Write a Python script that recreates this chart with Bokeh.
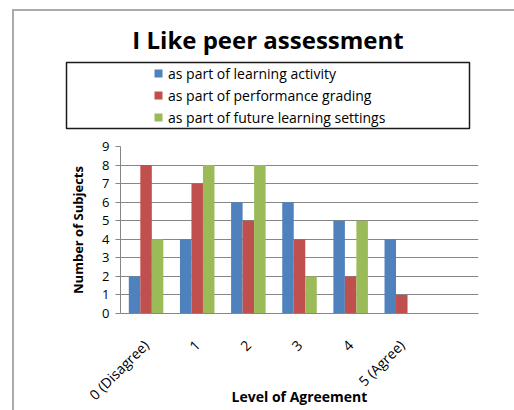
import math
from bokeh.plotting import figure
from bokeh.layouts import column
from bokeh.models import (FactorRange, Range1d, FixedTicker, Legend, LegendItem,
                          ColumnDataSource)
from bokeh.transform import dodge
from bokeh.embed import file_html
from bokeh.resources import INLINE

# ---- data ----
categories = ["0 (Disagree)", "1", "2", "3", "4", "5 (Agree)", " "]
learning_activity = [2, 4, 6, 6, 5, 4, 0]
performance_grading = [8, 7, 5, 4, 2, 1, 0]
future_settings = [4, 8, 8, 2, 5, 0, 0]
series_names = ["as part of learning activity",
                "as part of performance grading",
                "as part of future learning settings"]
y_ticks = [0, 1, 2, 3, 4, 5, 6, 7, 8, 9]

FONT = "Open Sans"
colors = ["#4F81BD", "#C0504D", "#9BBB59"]
grid_col = "#868686"
bw = 0.225

src = ColumnDataSource(dict(cat=categories, a=learning_activity,
                            b=performance_grading, c=future_settings))
xr = FactorRange(*categories)
yr = Range1d(0, 9)

# ---------- header: title + legend box ----------
head = figure(x_range=xr, y_range=yr, width=500, height=125,
              x_axis_type=None, y_axis_type=None,
              output_backend="svg", toolbar_location=None,
              min_border_left=52, min_border_right=45, min_border_top=51,
              min_border_bottom=8)
head.frame_align = False
head.outline_line_color = "#1a1a1a"
head.outline_line_width = 1.5
head.border_fill_color = "white"
head.title.text = "I Like peer assessment"
head.title.align = "center"
head.title.text_font = FONT
head.title.text_font_size = "24px"
head.title.text_font_style = "bold"
head.title.text_color = "black"
head.title.standoff = 13

head_r = []
for key, off, col in zip(["a", "b", "c"], [-bw, 0, bw], colors):
    r = head.vbar(x=dodge("cat", off, range=xr), top=key, bottom=0, width=bw,
                  source=src, fill_color=col, line_color=None, visible=False)
    head_r.append(r)

legend = Legend(items=[LegendItem(label=n, renderers=[r]) for n, r in zip(series_names, head_r)],
                location=(87, 1), border_line_color=None, background_fill_alpha=0,
                padding=0, margin=0, spacing=2, glyph_width=10, glyph_height=10,
                label_height=20, label_standoff=5, label_text_font=FONT,
                label_text_font_size="14px", label_text_color="black",
                inactive_fill_alpha=0)
head.add_layout(legend, "center")

# ---------- main chart ----------
p = figure(x_range=xr, y_range=yr, width=500, height=274,
           output_backend="svg", toolbar_location=None,
           min_border_left=106, min_border_right=36, min_border_top=10,
           min_border_bottom=97)
p.frame_align = False
p.outline_line_color = None
p.border_fill_color = "white"

for key, off, col, name in zip(["a", "b", "c"], [-bw, 0, bw], colors, series_names):
    p.vbar(x=dodge("cat", off, range=xr), top=key, bottom=0, width=bw,
           source=src, fill_color=col, line_color=None, name=name)

p.xgrid.grid_line_color = None
p.ygrid.grid_line_color = grid_col
p.ygrid.ticker = FixedTicker(ticks=y_ticks)

p.yaxis.ticker = FixedTicker(ticks=y_ticks)
p.yaxis.axis_line_color = grid_col
p.yaxis.major_tick_line_color = grid_col
p.yaxis.major_tick_out = 5
p.yaxis.major_tick_in = 0
p.yaxis.minor_tick_line_color = None
p.yaxis.major_label_text_font = FONT
p.yaxis.major_label_text_font_size = "13px"
p.yaxis.major_label_text_color = "black"
p.yaxis.major_label_standoff = 6
p.yaxis.axis_label = "Number of Subjects"
p.yaxis.axis_label_text_font = FONT
p.yaxis.axis_label_text_font_size = "13px"
p.yaxis.axis_label_text_font_style = "bold"
p.yaxis.axis_label_text_color = "black"
p.yaxis.axis_label_standoff = 12

p.xaxis.axis_line_color = grid_col
p.xaxis.major_tick_line_color = None
p.xaxis.minor_tick_line_color = None
p.xaxis.major_label_orientation = math.pi / 4
p.xaxis.major_label_text_font = FONT
p.xaxis.major_label_text_font_size = "14px"
p.xaxis.major_label_text_color = "black"
p.xaxis.major_label_standoff = 23
p.xaxis.axis_label = "Level of Agreement"
p.xaxis.axis_label_text_font = FONT
p.xaxis.axis_label_text_font_size = "14px"
p.xaxis.axis_label_text_font_style = "bold"
p.xaxis.axis_label_text_color = "black"
p.xaxis.axis_label_standoff = -26

layout = column(head, p, spacing=0,
                styles={"margin-left": "12px", "margin-top": "9px",
                        "border-left": "2px solid #ABABAB",
                        "border-top": "2px solid #ABABAB"})
open("out.html", "w").write(file_html(layout, INLINE))
